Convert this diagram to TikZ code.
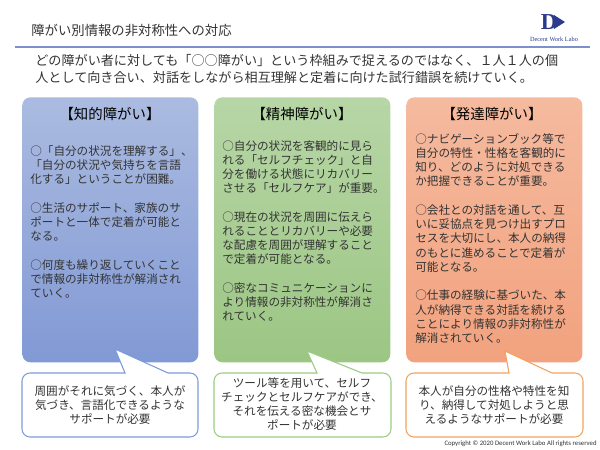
\documentclass[tikz,border=0pt]{standalone}
\usepackage{fontspec}
\setmainfont{Noto Sans CJK JP}
\newfontfamily\logofont{Liberation Serif}
\newfontfamily\copyfont{Carlito}
\definecolor{inktext}{HTML}{333333}
\definecolor{navylogo}{HTML}{2B3A8C}
\definecolor{ruleblue}{HTML}{7F8FCB}
\definecolor{blueedge}{HTML}{7C9AD8}
\definecolor{greenedge}{HTML}{9CCB82}
\definecolor{orangeedge}{HTML}{F2A25F}
\definecolor{bluetop}{HTML}{ABBBE0}
\definecolor{bluebot}{HTML}{8199D5}
\definecolor{greentop}{HTML}{B7D6A6}
\definecolor{greenbot}{HTML}{9CC684}
\definecolor{orangetop}{HTML}{F5BA9F}
\definecolor{orangebot}{HTML}{F2A27E}
\tikzset{
    panel/.style={rectangle,rounded corners=0.16cm,minimum width=3.52cm,minimum height=5.3cm,inner sep=0pt,anchor=north west},
    headlabel/.style={font=\fontsize{8.2}{10}\selectfont,text=black,inner sep=0pt},
    bodylabel/.style={font=\fontsize{6.6}{8.1}\selectfont,text=inktext,align=left,anchor=north west,inner sep=0pt},
    notelabel/.style={font=\fontsize{6.6}{8.1}\selectfont,text=inktext,align=center,inner sep=0pt},
    notebox/.style={fill=white,line width=0.6pt}
}
\begin{document}
\begin{tikzpicture}[x=0.02cm,y=-0.02cm]
    \useasboundingbox (0,0) rectangle (600,450);
    % title and rule
    \node[anchor=west,inner sep=0pt,text=inktext,font=\fontsize{7.6}{9}\selectfont] (title) at (31,30) {障がい別情報の非対称性への対応};
    \coordinate (ruleleft) at (15,47);
    \coordinate (ruleright) at (590,47);
    \draw[ruleblue,line width=0.6pt] (ruleleft) -- (ruleright);
    \node[inner sep=0pt,text=navylogo,font=\logofont\bfseries\fontsize{13}{13}\selectfont] (logoD) at (549,22) {D};
    \fill[navylogo] (554,15) -- (565,22) -- (554,29) -- cycle;
    \fill[white] (551,20) circle (1.1);
    \node[inner sep=0pt,text=navylogo,font=\logofont\fontsize{3.6}{4}\selectfont] (logotext) at (554,39) {Decent Work Labo};
    \node[bodylabel,font=\fontsize{7.46}{9.6}\selectfont] (lead) at (35,54.5) {どの障がい者に対しても「○○障がい」という枠組みで捉えるのではなく、１人１人の個\\人として向き合い、対話をしながら相互理解と定着に向けた試行錯誤を続けていく。};
    % the three panels
    \node[panel,top color=bluetop,bottom color=bluebot] (chiteki) at (22,97) {};
    \node[panel,top color=greentop,bottom color=greenbot] (seishin) at (214,97) {};
    \node[panel,top color=orangetop,bottom color=orangebot] (hattatsu) at (406,97) {};
    \node[headlabel] (chitekihead) at (110,114) {【知的障がい】};
    \node[headlabel] (seishinhead) at (302,114) {【精神障がい】};
    \node[headlabel] (hattatsuhead) at (492,114) {【発達障がい】};
    \node[bodylabel] (chitekibody) at (30,145) {○「自分の状況を理解する」、\\「自分の状況や気持ちを言語\\化する」ということが困難。\\[8.1pt]○生活のサポート、家族のサ\\ポートと一体で定着が可能と\\なる。\\[8.1pt]○何度も繰り返していくこと\\で情報の非対称性が解消され\\ていく。};
    \node[bodylabel] (seishinbody) at (222,140) {○自分の状況を客観的に見ら\\れる「セルフチェック」と自\\分を働ける状態にリカバリー\\させる「セルフケア」が重要。\\[8.1pt]○現在の状況を周囲に伝えら\\れることとリカバリーや必要\\な配慮を周囲が理解すること\\で定着が可能となる。\\[8.1pt]○密なコミュニケーションに\\より情報の非対称性が解消さ\\れていく。};
    \node[bodylabel] (hattatsubody) at (415,133) {○ナビゲーションブック等で\\自分の特性・性格を客観的に\\知り、どのように対処できる\\か把握できることが重要。\\[8.1pt]○会社との対話を通して、互\\いに妥協点を見つけ出すプロ\\セスを大切にし、本人の納得\\のもとに進めることで定着が\\可能となる。\\[8.1pt]○仕事の経験に基づいた、本\\人が納得できる対話を続ける\\ことにより情報の非対称性が\\解消されていく。};
    % speech bubbles
    \draw[notebox,draw=blueedge] (60,373) -- (125,373) -- (115,349) -- (168,373) [rounded corners=0.16cm] -- (198,373) -- (198,437) -- (22,437) -- (22,373) -- cycle;
    \draw[notebox,draw=greenedge] (250,373) -- (317,373) -- (307,351) -- (362,373) [rounded corners=0.16cm] -- (391,373) -- (391,437) -- (214,437) -- (214,373) -- cycle;
    \draw[notebox,draw=orangeedge] (450,373) -- (509,373) -- (505,351) -- (552,373) [rounded corners=0.16cm] -- (583,373) -- (583,437) -- (406,437) -- (406,373) -- cycle;
    \node[notelabel] (chitekinote) at (110,405) {周囲がそれに気づく、本人が\\気づき、言語化できるような\\サポートが必要};
    \node[notelabel] (seishinnote) at (302,404) {ツール等を用いて、セルフ\\チェックとセルフケアができ、\\それを伝える密な機会とサ\\ポートが必要};
    \node[notelabel] (hattatsunote) at (494,405) {本人が自分の性格や特性を知\\り、納得して対処しようと思\\えるようなサポートが必要};
    \node[anchor=east,inner sep=0pt,text=inktext,font=\copyfont\fontsize{3.85}{4}\selectfont] (copyright) at (597,444) {Copyright © 2020 Decent Work Labo All rights reserved};
\end{tikzpicture}
\end{document}
